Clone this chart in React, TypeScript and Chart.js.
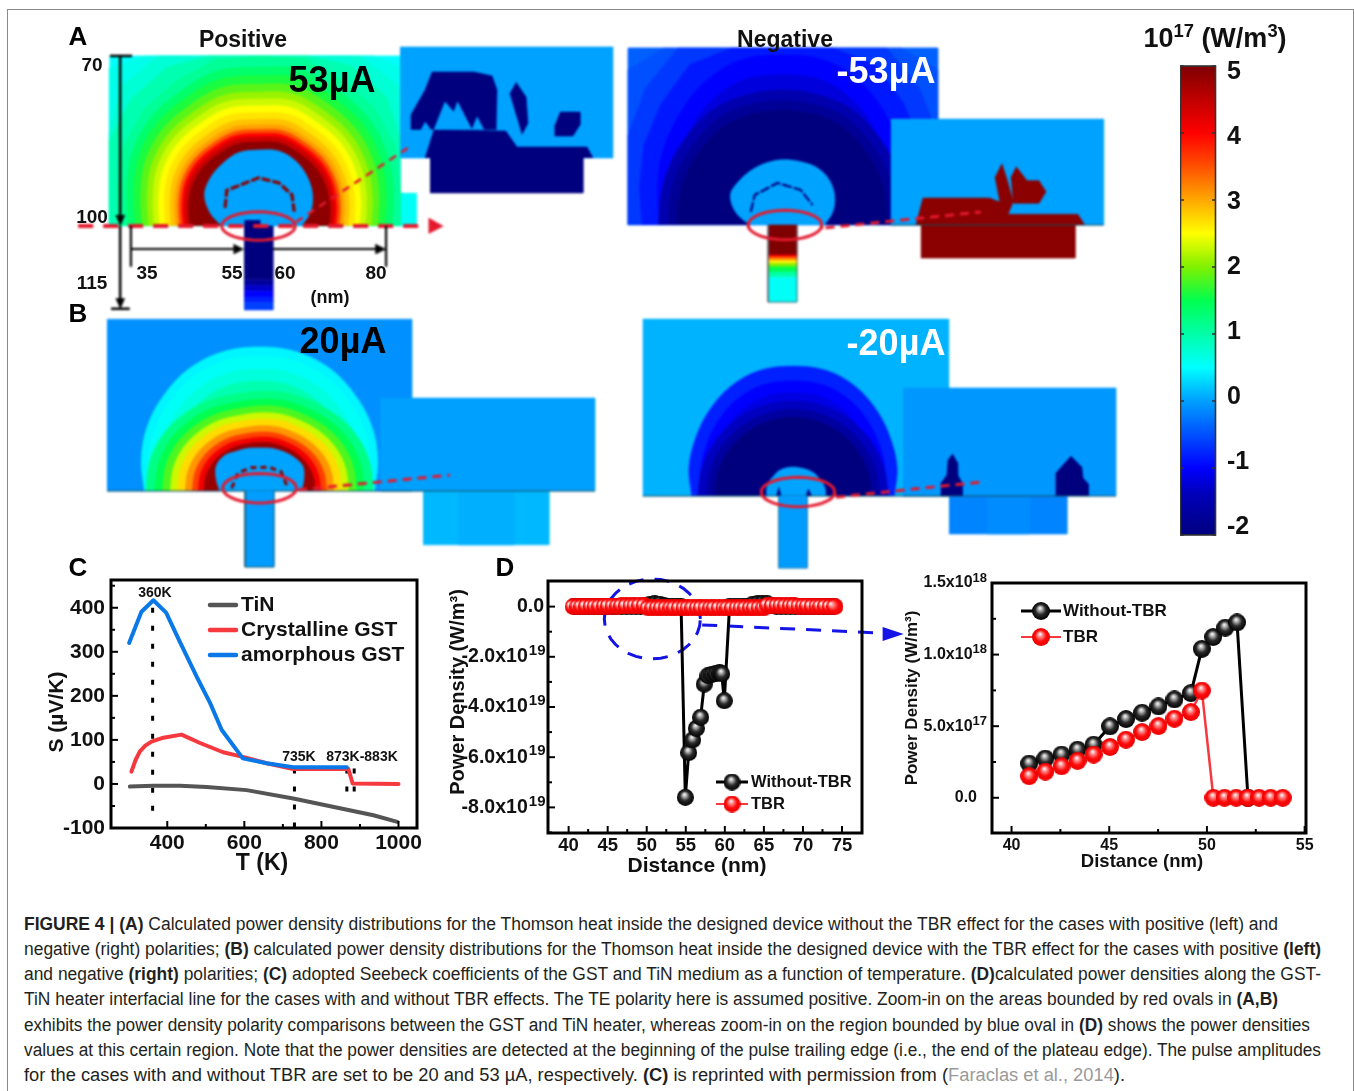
import React, { useEffect, useLayoutEffect, useRef } from 'react';
import { Chart, registerables } from 'chart.js';
Chart.register(...registerables);
Chart.defaults.font.family = '"Liberation Sans", Arial, sans-serif';

const FONT = '"Liberation Sans", Arial, sans-serif';

// ---------- Panel C ----------
const tempBlue = [301, 333, 364, 397, 433, 476, 511, 541, 596, 658, 727, 866];
const seebeckBlue = [320, 391, 417, 389, 322, 244, 184, 123, 58, 47, 38, 38];
const tempRed = [307, 318, 329, 343, 359, 390, 437, 485, 545, 599, 658, 727, 870, 881, 1000];
const seebeckRed = [28, 55, 74, 87, 96, 105, 112, 93, 72, 61, 47, 34, 34, 1, 0];
const tempGray = [303, 364, 433, 502, 606, 727, 848, 935, 997];
const seebeckGray = [-6, -4, -4, -7, -14, -33, -55, -71, -86];
const dottedT = [362, 730, 866, 885];
const dottedTop = [400, 35, 35, 35];
const dottedBottom = [-63, -100, -20, -40];
const tempTicks = [400, 600, 800, 1000];
const seebeckTicks = [-100, 0, 100, 200, 300, 400];

// ---------- Panel D (values in 1e19 W/m3) ----------
const dBlackX = [40.8, 41.4, 42.0, 42.6, 43.2, 43.8, 44.4, 45.0, 45.6, 46.2, 46.8, 47.4, 48.0, 48.6, 49.2, 49.8, 50.4, 51.0, 51.6, 52.2, 52.8, 53.4, 54.0, 54.4, 54.94, 55.37, 55.88, 56.35, 56.9, 57.37, 57.84, 58.35, 58.86, 59.33, 59.6, 59.93, 60.6, 61.2, 61.8, 62.4, 63.0, 63.6, 64.2, 64.8, 65.4, 66.0, 66.6, 67.2, 67.8, 68.4, 69.0, 69.6, 70.2, 70.8, 71.4, 72.0, 72.6, 73.2, 73.8];
const dBlackY = [0.02, 0.02, 0.02, 0.02, 0.02, 0.02, 0.02, 0.02, 0.02, 0.02, 0.02, 0.02, 0.02, 0.02, 0.02, 0.03, 0.09, 0.11, 0.1, 0.04, 0.02, 0.01, 0.0, 0.0, -7.6, -5.82, -5.31, -4.85, -4.41, -3.09, -2.75, -2.7, -2.67, -2.64, -2.68, -3.75, 0.0, 0.0, 0.0, 0.0, 0.02, 0.1, 0.12, 0.13, 0.12, 0.05, 0.02, 0.02, 0.02, 0.02, 0.02, 0.02, 0.02, 0.02, 0.02, 0.02, 0.02, 0.02, 0.02];
const dRedX = [40.6, 41.2, 41.7, 42.3, 42.9, 43.4, 44.0, 44.6, 45.1, 45.7, 46.3, 46.8, 47.4, 48.0, 48.5, 49.1, 49.7, 50.2, 50.8, 51.4, 51.9, 52.5, 53.1, 53.6, 54.2, 54.8, 55.3, 55.9, 56.5, 57.0, 57.6, 58.2, 58.7, 59.3, 59.9, 60.4, 61.0, 61.6, 62.1, 62.7, 63.3, 63.8, 64.4, 65.0, 65.5, 66.1, 66.7, 67.2, 67.8, 68.4, 68.9, 69.5, 70.1, 70.6, 71.2, 71.8, 72.3, 72.9, 73.5, 74.1];
const dRedY = [0.0, 0.0, 0.0, 0.01, 0.01, 0.01, 0.01, 0.02, 0.02, 0.02, 0.02, 0.03, 0.03, 0.03, 0.03, 0.04, 0.04, -0.05, -0.05, -0.05, -0.05, -0.05, -0.05, -0.05, -0.05, -0.05, -0.05, -0.05, -0.05, -0.05, -0.05, -0.05, -0.05, -0.05, -0.05, -0.05, -0.05, -0.05, -0.05, -0.05, -0.05, -0.05, -0.05, -0.05, 0.05, 0.04, 0.04, 0.04, 0.03, 0.03, 0.03, 0.02, 0.02, 0.02, 0.01, 0.01, 0.01, 0.01, 0.0, 0.0];
const distanceTicks = [40, 45, 50, 55, 60, 65, 70, 75];
const densityTicks = [-8, -6, -4, -2, 0];

// ---------- Panel D inset (values in 1e18 W/m3) ----------
const zoomBlackX = [40.9, 41.73, 42.56, 43.38, 44.2, 45.04, 45.86, 46.68, 47.52, 48.34, 49.18, 49.74, 50.32, 50.94, 51.54, 52.1];
const zoomBlackY = [0.239, 0.274, 0.302, 0.336, 0.371, 0.499, 0.55, 0.594, 0.638, 0.687, 0.731, 1.04, 1.123, 1.188, 1.225, 0.0];
const zoomRedX = [40.9, 41.73, 42.56, 43.38, 44.2, 45.04, 45.86, 46.68, 47.52, 48.34, 49.18, 49.74, 50.33, 50.9, 51.5, 52.08, 52.67, 53.26, 53.88];
const zoomRedY = [0.151, 0.183, 0.22, 0.258, 0.302, 0.355, 0.406, 0.459, 0.501, 0.552, 0.599, 0.749, 0, 0, 0, 0, 0, 0, 0];
const zoomXTicks = [40, 45, 50, 55];
const zoomYTicks = [0, 0.5, 1, 1.5];

// ---------- Colour scale ----------
const cbValues = [-2, -1.4, -1, -0.5, 0, 0.5, 1, 1.5, 2, 2.5, 3, 3.5, 4, 4.5, 5];
const cbColors = ['#00007f', '#0000b8', '#0000ff', '#0050ff', '#00a0ff', '#00ffff', '#00ffa8', '#00ff50', '#80f000', '#ffff00', '#ffa800', '#ff5000', '#ff0000', '#c00000', '#7f0000'];

function hexRgb(h: string) { return [1, 3, 5].map((i) => parseInt(h.slice(i, i + 2), 16)); }
function jet(v: number) {
  if (v <= cbValues[0]) return cbColors[0];
  for (let i = 1; i < cbValues.length; i++) {
    if (v <= cbValues[i]) {
      const t = (v - cbValues[i - 1]) / (cbValues[i] - cbValues[i - 1]);
      const a = hexRgb(cbColors[i - 1]), b = hexRgb(cbColors[i]);
      return `rgb(${a.map((c, k) => Math.round(c + (b[k] - c) * t)).join(',')})`;
    }
  }
  return cbColors[cbColors.length - 1];
}

// ---------- Field panels: nm about the heater centre, y upward ----------
const NM = 5.67;
const NAVY = '#00007f', DARKRED = '#8b0000', RED = '#e4192e';
type P = number[];

const aPosProfile = [0.84, 0.88, 0.93, 0.97, 0.99, 1.02, 1, 1.01, 0.98, 0.96, 0.92, 0.86, 0.82];
const aPosRadii = [41, 36, 33, 30, 28, 26.5, 25, 23.6, 22.4, 21.2, 20, 18.8, 17.8, 17, 16.3, 15.7, 14.8];
const aPosValues = [0.62, 0.75, 0.95, 1.1, 1.35, 1.6, 1.85, 2.1, 2.3, 2.5, 2.65, 2.85, 3.05, 3.5, 4.0, 4.4, 4.9];
const aPosCore = [7.6, 9.5, 11, 12.2, 13.2, 13.7, 13.4, 13.4, 12.7, 12, 11, 8.8, 6.5];
const aPosArc: P[] = [[-5.9, 3.2], [-5.6, 6.3], [0, 8.5], [3.6, 7.6], [5.9, 5.5], [6.3, 2.5]];

const aNegProfile = [0.72, 0.76, 0.82, 0.88, 0.95, 1, 1, 1, 0.95, 0.88, 0.82, 0.76, 0.72];
const aNegRadii = [52.9, 44.1, 38.8, 34.4, 30, 26.5];
const aNegValues = [-0.4, -0.5, -0.65, -0.85, -1, -1.2];
const aNegInnerProfile = [0.92, 0.93, 0.95, 0.97, 1, 1, 1, 1, 1, 0.97, 0.95, 0.93, 0.92];
const aNegInnerRadii = [23.8, 22, 20.3];
const aNegInnerValues = [-1.5, -1.75, -2];
const aNegCore = [7.4, 9.2, 10.6, 11.5, 11.8, 11.6, 11.5, 11.3, 11.1, 10.9, 10.6, 8.5, 5.8];
const aNegArc: P[] = [[-5.6, 2.3], [-4.9, 5.3], [-0.9, 7.4], [3.2, 6.2], [5.3, 3.5]];

const bPosProfile = [0.8, 0.85, 0.9, 0.94, 0.98, 1, 1, 1, 0.98, 0.94, 0.9, 0.85, 0.8];
const bPosRadii = [25.4, 23.8, 21.5, 19.4];
const bPosValues = [0.45, 0.55, 0.7, 0.95];
const bPosInnerProfile = [1.14, 1.14, 1.12, 1.08, 1.04, 1.02, 1, 1, 1.04, 1.08, 1.12, 1.14, 1.14];
const bPosInnerRadii = [17.6, 16.2, 15, 13.8, 12.7, 11.5, 10.4, 9.5, 8.6];
const bPosInnerValues = [1.2, 1.5, 1.8, 2.3, 2.7, 3.1, 3.6, 4.1, 4.8];
const bPosCore = [7.4, 8.1, 8.8, 8.5, 8.1, 7.8, 7.6, 7.8, 8.1, 8.8, 8.8, 7.9, 7];
const bPosArc: P[] = [[-4.9, 0.5], [-3.8, 3.2], [-1.5, 4.1], [1.7, 4.2], [3.8, 3.4], [5, 0.5]];

const bNegProfile = [0.78, 0.83, 0.87, 0.92, 0.97, 1, 1, 1, 0.97, 0.92, 0.87, 0.83, 0.78];
const bNegRadii = [22.9, 20.3, 18.2];
const bNegValues = [-0.8, -1, -1.15];
const bNegInnerProfile = [1, 1, 1, 1, 1, 1, 1, 1, 1, 1, 1, 1, 1];
const bNegInnerRadii = [16.8, 15.3, 13.9];
const bNegInnerValues = [-1.35, -1.65, -2];
const bNegCore = [5.8, 5.8, 5.6, 5.5, 5.3, 5.1, 5.1, 5.1, 5.1, 4.9, 4.9, 4.8, 4.6];

// Inset shapes in nm at inset scale
const insetAPos: P[][] = [
  [[-2.66, 0], [-2.37, 0.92], [-0.02, 0.88], [0.34, 0.36], [2.63, 0.36], [2.83, 0]],
  [[-3.12, 0.92], [-3.12, 1.41], [-2.66, 2.22], [-2.43, 2.81], [-1.06, 2.81], [-0.47, 2.68], [-0.31, 2.22], [-0.34, 0.92]],
  [[0.31, 2.48], [0.64, 1.99], [0.7, 1.14], [0.51, 0.78], [0.11, 2.12]],
  [[1.75, 1.5], [2.4, 1.5], [2.4, 1.08], [2.17, 0.72], [1.58, 0.72], [1.58, 1.08]],
];
const insetAPosNotches: P[][] = [
  [[-2.37, 0.92], [-2.01, 1.83], [-1.72, 1.5], [-1.6, 1.83], [-1.13, 0.92]],
  [[-1.13, 0.92], [-0.96, 1.34], [-0.74, 0.92]],
  [[-2.66, 1.18], [-2.47, 0.92], [-2.8, 0.92]],
];
const insetANeg: P[][] = [
  [[-2.68, 0], [-2.45, 0.88], [-0.26, 0.88], [0.33, 0.35], [2.61, 0.35], [2.84, 0]],
  [[-0.1, 1.54], [0.13, 2.0], [0.28, 1.54], [0.5, 0.77], [0.05, 0.77]],
  [[0.42, 1.54], [0.6, 1.9], [0.95, 1.45], [1.34, 1.45], [1.57, 1.09], [1.34, 0.71], [0.5, 0.71]],
  [[0.05, 0.77], [0.5, 0.77], [0.33, 0.35], [-0.26, 0.88]],
];
const insetBNeg: P[][] = [
  [[-2.84, 0], [-2.84, 0.55], [-2.59, 0.89], [-2.54, 1.53], [-2.35, 1.78], [-2.16, 1.44], [-2.13, 0.89], [-1.94, 0.55], [-1.94, 0]],
  [[2.03, 0], [2.03, 0.97], [2.67, 1.69], [3.13, 1.22], [3.18, 0.76], [3.41, 0.51], [3.41, 0]],
];

// ---------- Dataset helpers ----------
const xy = (pts: P[]) => pts.map(([x, y]) => ({ x, y }));
const poly = (pts: P[], color: string, extra: any = {}) => ({
  data: xy(pts), showLine: true, fill: 'shape', backgroundColor: color, borderColor: color,
  borderWidth: 0.6, pointRadius: 0, tension: 0, ...extra,
});
const line = (pts: P[], color: string, width: number, dash: number[] = [], extra: any = {}) => ({
  data: xy(pts), showLine: true, fill: false, borderColor: color, backgroundColor: color,
  borderWidth: width, borderDash: dash, pointRadius: 0, tension: 0, ...extra,
});
const rect = (x0: number, y0: number, x1: number, y1: number): P[] => [[x0, y0], [x1, y0], [x1, y1], [x0, y1]];
const ANGLES = [0, 15, 30, 45, 60, 75, 90, 105, 120, 135, 150, 165, 180];
const polar = (radii: number[]): P[] =>
  radii.map((r, i) => {
    const a = (ANGLES[i] * Math.PI) / 180;
    return [r * Math.cos(a), r * Math.sin(a)];
  });
const ellipse = (cx: number, cy: number, rx: number, ry: number): P[] => {
  const out: P[] = [];
  for (let a = 0; a <= 360; a += 10) out.push([cx + rx * Math.cos((a * Math.PI) / 180), cy + ry * Math.sin((a * Math.PI) / 180)]);
  return out;
};

function ordered(list: any[]) {
  return list.map((d, i) => ({ ...d, order: list.length - i }));
}

function ringPoly(radii: number[], p: any, color: string) {
  const raw = polar(radii);
  const clamped = raw.some(([x, y]) => x < p.xL || x > p.xR || y > p.yT);
  const pts = raw.map(([x, y]) => [Math.min(p.xR, Math.max(p.xL, x)), Math.min(p.yT, y)]);
  return poly(pts, color, { tension: clamped ? 0 : 0.35 });
}

function field(p: any) {
  const out: any[] = [];
  out.push(poly(rect(p.xL, 0, p.xR, p.yT), jet(p.bg)));
  (p.under || []).forEach((d: any) => out.push(d));
  p.groups.forEach((g: any) => {
    g.radii.forEach((r: number, i: number) => {
      out.push(ringPoly(g.profile.map((f: number) => f * r), p, jet(g.values[i])));
    });
  });
  out.push(ringPoly(p.core, p, jet(0.02)));
  (p.over || []).forEach((d: any) => out.push(d));
  // heater bands
  p.heater.forEach((b: number[]) => out.push(poly(rect(-2.55, b[0], 2.55, b[1]), jet(b[2]))));
  if (p.heaterEdge) {
    out.push(line([[-2.55, 0], [-2.55, p.heater[p.heater.length - 1][1]], [2.55, p.heater[p.heater.length - 1][1]], [2.55, 0]], p.heaterEdge, 1));
  }
  const T = (pts: P[]): P[] => pts.map(([x, y]) => [p.ins.dx + x * p.ins.k, p.ins.dy + y * p.ins.k]);
  out.push(poly(T(rect(p.ins.x0, 0, p.ins.x1, p.ins.top)), p.ins.bg));
  p.ins.lower.forEach((b: any) => out.push(poly(T(rect(b[0], 0, b[1], p.ins.bottom)), b[2])));
  (p.ins.shapes || []).forEach((s: P[]) => out.push(poly(T(s), p.ins.fg)));
  (p.ins.notches || []).forEach((s: P[]) => out.push(poly(T(s), p.ins.bg)));
  (p.ins.baseLine ? [1] : []).forEach(() => out.push(line(T([[p.ins.x0, 0], [p.ins.x1, 0]]), '#14505f', 1)));
  (p.top || []).forEach((d: any) => out.push(d));
  return ordered(out);
}

const panelAPos = {
  cx: 258.5, base: 226, box: { left: 70, top: 40, width: 550, height: 275 },
  xL: -26.3, xR: 25, yT: 30, bg: 0.52,
  under: [poly(rect(25, 0, 27.9, 5.8), jet(0.55))],
  groups: [{ profile: aPosProfile, radii: aPosRadii, values: aPosValues }],
  core: aPosCore,
  over: [line(aPosArc, DARKRED, 3.2, [9, 2]), poly(rect(-2.5, 0, 0.3, 1), NAVY)],
  heater: [[0, -9.5, -2], [-9.5, -10.5, -1.7], [-10.5, -11.5, -1.3], [-11.5, -12.5, -1], [-12.5, -13.5, -0.8], [-13.5, -14.8, -0.6]],
  ins: { dx: 43.74, dy: 11.99, k: 5.397, x0: -3.48, x1: 3.48, top: 3.63, bottom: -1.14, bg: '#00a2ff', fg: NAVY, lower: [[-2.5, 2.5, NAVY]], shapes: insetAPos, notches: insetAPosNotches },
  top: [
    line([[-31.8, 0], [28.5, 0]], RED, 4, [15, 10]),
    poly([[30.1, 1.4], [30.1, -1.3], [32.6, 0]], RED),
    line([[6.6, 0.7], [26.4, 13.8]], RED, 2.5, [8, 6]),
    line(ellipse(0, 0, 6.5, 2.5), RED, 3),
    line([[-24.4, 30], [-24.4, 1]], '#000', 2.5),
    poly([[-25.2, 1.9], [-23.6, 1.9], [-24.4, 0]], '#000'),
    line([[-26.2, 30], [-22.3, 30]], '#000', 2.5),
    line([[-24.4, 0], [-24.4, -13.5]], '#000', 2.5),
    poly([[-25.2, -12.8], [-23.6, -12.8], [-24.4, -14.6]], '#000'),
    line([[-26, -14.6], [-22.7, -14.6]], '#000', 2.5),
    line([[-22.5, -4.06], [-3.4, -4.06]], '#000', 2.2),
    poly([[-4.3, -3.2], [-4.3, -4.9], [-2.6, -4.06]], '#000'),
    line([[2.55, -4.06], [21, -4.06]], '#000', 2.2),
    poly([[20.7, -3.2], [20.7, -4.9], [22.5, -4.06]], '#000'),
    line([[-22.5, 0], [-22.5, -7.2]], '#000', 2.2),
    line([[22.5, 0], [22.5, -7.2]], '#000', 2.2),
  ],
};

const panelANeg = {
  cx: 782.5, base: 225, box: { left: 620, top: 35, width: 500, height: 275 },
  xL: -27.2, xR: 27.4, yT: 31.2, bg: -0.38,
  groups: [
    { profile: aNegProfile, radii: aNegRadii, values: aNegValues },
    { profile: aNegInnerProfile, radii: aNegInnerRadii, values: aNegInnerValues },
  ],
  core: aNegCore,
  over: [line(aNegArc, NAVY, 2.2, [10, 2])],
  heater: [[0, -5.3, 5], [-5.3, -5.7, 4], [-5.7, -6.2, 3.3], [-6.2, -6.8, 2.6], [-6.8, -7.4, 2], [-7.4, -8.3, 1.5], [-8.3, -9.2, 1], [-9.2, -13.6, 0.55]],
  heaterEdge: '#667',
  ins: { dx: 38.0, dy: 0, k: 5.397, x0: -3.5, x1: 3.46, top: 3.46, bottom: -1.08, bg: '#00a2ff', fg: DARKRED, lower: [[-2.52, 2.52, DARKRED]], shapes: insetANeg, baseLine: true },
  top: [
    line([[7.6, -0.5], [35, 2.3]], RED, 3, [9, 6]),
    line(ellipse(0.44, 0, 6.5, 2.6), RED, 3),
  ],
};

const panelBPos = {
  cx: 259.5, base: 491, box: { left: 95, top: 310, width: 510, height: 265 },
  xL: -26.9, xR: 26.9, yT: 30.3, bg: -0.1,
  groups: [
    { profile: bPosProfile, radii: bPosRadii, values: bPosValues },
    { profile: bPosInnerProfile, radii: bPosInnerRadii, values: bPosInnerValues },
  ],
  core: bPosCore,
  over: [line(bPosArc, DARKRED, 3, [6, 4]), line([[-26.9, 0], [26.9, 0]], '#14505f', 1)],
  heater: [[0, -13.4, -0.02]],
  heaterEdge: '#155a72',
  ins: { dx: 39.95, dy: 0, k: 4.44, x0: -4.2, x1: 4.33, top: 3.69, bottom: -2.14, bg: '#00a0ff', fg: NAVY, baseLine: true, lower: [[-2.5, 2.5, '#00b8ff'], [-1.1, 1.1, '#00b0ff']] },
  top: [
    line([[6.8, 0.2], [33.6, 2.8]], RED, 3, [9, 6]),
    line(ellipse(0, 0.5, 6.5, 2.6), RED, 3),
  ],
};

const panelBNeg = {
  cx: 793, base: 496, box: { left: 635, top: 310, width: 490, height: 265 },
  xL: -26.5, xR: 27.5, yT: 31.2, bg: 0.1,
  groups: [
    { profile: bNegProfile, radii: bNegRadii, values: bNegValues },
    { profile: bNegInnerProfile, radii: bNegInnerRadii, values: bNegInnerValues },
  ],
  core: bNegCore,
  over: [
    poly([[-2.9, 0], [-2.5, 1.5], [-2.1, 0]], NAVY), poly([[2.3, 0], [2.7, 1.2], [3.3, 0]], NAVY),
    line([[-26.5, 0], [27.5, 0]], '#14505f', 1),
  ],
  heater: [[0, -12.7, -0.02]],
  heaterEdge: '#2a80b0',
  ins: { dx: 37.92, dy: 0, k: 4.16, x0: -4.45, x1: 4.58, top: 4.58, bottom: -1.61, bg: '#0098ff', fg: NAVY, baseLine: true, lower: [[-2.5, 2.5, '#0084ff'], [-0.9, 0.9, '#008cff']], shapes: insetBNeg },
  top: [
    line([[7.6, -0.2], [33.5, 2.5]], RED, 3, [9, 6]),
    line(ellipse(0.88, 0.7, 6.5, 2.6), RED, 3),
  ],
};

function fieldConfig(p: any) {
  const b = p.box;
  return {
    type: 'scatter',
    data: { datasets: field(p) },
    options: {
      responsive: false, animation: false, events: [], devicePixelRatio: 1,
      layout: { padding: 0 },
      plugins: { legend: { display: false }, tooltip: { enabled: false } },
      scales: {
        x: { type: 'linear', display: false, min: (b.left - p.cx) / NM, max: (b.left + b.width - p.cx) / NM },
        y: { type: 'linear', display: false, min: (p.base - b.top - b.height) / NM, max: (p.base - b.top) / NM },
      },
    },
  };
}

// ---------- Sphere markers ----------
function sphere(kind: 'black' | 'red', d = 16, hx = -1) {
  const c = document.createElement('canvas');
  c.width = d; c.height = d;
  const g = c.getContext('2d')!;
  const r = d / 2;
  const grad = g.createRadialGradient(r + hx, r - 3, 0.4, r, r, r);
  if (kind === 'black') {
    grad.addColorStop(0, '#f4f4f4'); grad.addColorStop(0.22, '#a8a8a8'); grad.addColorStop(0.55, '#2a2a2a'); grad.addColorStop(1, '#000');
  } else {
    grad.addColorStop(0, '#fff4f4'); grad.addColorStop(0.22, '#ff9090'); grad.addColorStop(0.6, '#ff0c0c'); grad.addColorStop(1, '#e80000');
  }
  g.fillStyle = grad;
  g.beginPath(); g.arc(r, r, r, 0, Math.PI * 2); g.fill();
  return c;
}

// ---------- Frame, inward ticks, legends, annotations ----------
function decor(cfg: any) {
  return {
    id: 'decor',
    afterDatasetsDraw(chart: any) {
      const { ctx, chartArea: a } = chart;
      const xs = chart.scales.x, ys = chart.scales.y;
      ctx.save();
      ctx.strokeStyle = '#000'; ctx.fillStyle = '#000';
      const tick = (p: number, len: number, horiz: boolean) => {
        ctx.lineWidth = 2;
        ctx.beginPath();
        if (horiz) { ctx.moveTo(p, a.bottom); ctx.lineTo(p, a.bottom - len); }
        else { ctx.moveTo(a.left, p); ctx.lineTo(a.left + len, p); }
        ctx.stroke();
      };
      xs.ticks.forEach((t: any) => tick(xs.getPixelForValue(t.value), 7, true));
      ys.ticks.forEach((t: any) => tick(ys.getPixelForValue(t.value), 7, false));
      (cfg.xMinor || []).forEach((v: number) => tick(xs.getPixelForValue(v), 4, true));
      (cfg.yMinor || []).forEach((v: number) => tick(ys.getPixelForValue(v), 4, false));
      ctx.lineWidth = 3;
      ctx.strokeRect(a.left, a.top, a.right - a.left, a.bottom - a.top);
      (cfg.legend || []).forEach((e: any) => {
        ctx.strokeStyle = e.color; ctx.lineWidth = e.width;
        ctx.lineCap = e.ball ? 'butt' : 'round';
        ctx.beginPath(); ctx.moveTo(e.x0, e.y); ctx.lineTo(e.x1, e.y); ctx.stroke();
        if (e.ball) ctx.drawImage(e.ball, (e.x0 + e.x1) / 2 - e.ball.width / 2, e.y - e.ball.height / 2);
        ctx.fillStyle = '#111'; ctx.font = cfg.legendFont; ctx.textAlign = 'left'; ctx.textBaseline = 'middle';
        ctx.fillText(e.label, e.tx, e.y);
      });
      (cfg.texts || []).forEach((t: any) => {
        ctx.save();
        ctx.translate(t.x, t.y);
        if (t.rot) ctx.rotate(t.rot);
        ctx.fillStyle = '#111'; ctx.font = t.font; ctx.textAlign = 'center'; ctx.textBaseline = 'middle';
        ctx.fillText(t.text, 0, 0);
        ctx.restore();
      });
      (cfg.heads || []).forEach((h: any) => {
        ctx.fillStyle = h.color;
        ctx.beginPath();
        h.pts.forEach((q: P, i: number) => {
          const px = xs.getPixelForValue(q[0]), py = ys.getPixelForValue(q[1]);
          if (i) ctx.lineTo(px, py); else ctx.moveTo(px, py);
        });
        ctx.closePath(); ctx.fill();
      });
      // exponents next to the library's tick labels
      if (cfg.sup) {
        ctx.fillStyle = '#111'; ctx.font = cfg.sup.font; ctx.textAlign = 'right'; ctx.textBaseline = 'middle';
        ys.ticks.forEach((t: any) => {
          const s = cfg.sup.text(t.value);
          if (s) ctx.fillText(s, a.left - cfg.sup.gap, ys.getPixelForValue(t.value) - cfg.sup.rise);
        });
      }
      ctx.restore();
    },
  };
}

// Scale padding (label half-height plus tick padding) would otherwise push the plot area in.
const noPad = (s: any) => { s.paddingTop = 0; s.paddingBottom = 0; s.paddingLeft = 0; s.paddingRight = 0; };

function axisBase(ticksList: number[], extra: any) {
  return {
    type: 'linear',
    grid: { display: false, drawTicks: false },
    border: { display: false },
    afterBuildTicks: (s: any) => { s.ticks = ticksList.map((value) => ({ value })); },
    ...extra,
  };
}

// Panel C
const boxC = { left: 40, top: 565, width: 397, height: 314 };
const configC = {
  type: 'scatter',
  data: {
    datasets: [
      line(tempBlue.map((t, i) => [t, seebeckBlue[i]]), '#0a78e6', 4, [], { label: 'amorphous GST', order: 0, borderJoinStyle: 'round', borderCapStyle: 'round' }),
      line(tempRed.map((t, i) => [t, seebeckRed[i]]), '#f5393f', 4, [], { label: 'Crystalline GST', order: 1, borderJoinStyle: 'round', borderCapStyle: 'round' }),
      line(tempGray.map((t, i) => [t, seebeckGray[i]]), '#555555', 4, [], { label: 'TiN', order: 2, borderCapStyle: 'round' }),
      ...dottedT.map((t, i) => line([[t, dottedTop[i]], [t, dottedBottom[i]]], '#000', 3, [5, 13], { order: 3 })),
    ],
  },
  options: {
    responsive: false, animation: false, events: [], devicePixelRatio: 1,
    layout: { padding: { top: 15, right: 20, left: 0, bottom: 0 } },
    plugins: { legend: { display: false }, tooltip: { enabled: false } },
    scales: {
      x: axisBase(tempTicks, {
        min: 254, max: 1048,
        ticks: { color: '#111', font: { size: 21, weight: 'bold' }, padding: 3, maxRotation: 0, autoSkip: false, callback: (v: number) => String(v) },
        afterFit: (s: any) => { s.height = 51; noPad(s); },
      }),
      y: axisBase(seebeckTicks, {
        min: -100, max: 463,
        ticks: { color: '#111', font: { size: 21, weight: 'bold' }, padding: 6 },
        afterFit: (s: any) => { s.width = 71; noPad(s); },
      }),
    },
  },
  plugins: [decor({
    xMinor: [500, 700, 900],
    yMinor: [-50, 50, 150, 250, 350, 450],
    legendFont: 'bold 21px ' + FONT,
    legend: [
      { label: 'TiN', color: '#555555', width: 4.5, x0: 210 - 40, x1: 236 - 40, y: 605 - 565, tx: 241 - 40 },
      { label: 'Crystalline GST', color: '#f5393f', width: 4.5, x0: 210 - 40, x1: 236 - 40, y: 630 - 565, tx: 241 - 40 },
      { label: 'amorphous GST', color: '#0a78e6', width: 4.5, x0: 210 - 40, x1: 236 - 40, y: 655 - 565, tx: 241 - 40 },
    ],
    texts: [
      { text: 'S (µV/K)', x: 57 - 40, y: 712 - 565, rot: -Math.PI / 2, font: 'bold 21px ' + FONT },
      { text: 'T (K)', x: 262 - 40, y: 864 - 565, font: 'bold 23px ' + FONT },
      { text: '360K', x: 155 - 40, y: 593 - 565, font: 'bold 14px ' + FONT },
      { text: '735K', x: 299 - 40, y: 757 - 565, font: 'bold 14px ' + FONT },
      { text: '873K-883K', x: 362 - 40, y: 757 - 565, font: 'bold 14px ' + FONT },
    ],
  })],
};

// Panel D
const boxD = { left: 445, top: 566, width: 465, height: 313 };
function configD() {
  const blue = '#1414e6';
  return {
    type: 'scatter',
    data: {
      datasets: [
        line(dRedX.map((x, i) => [x, dRedY[i]]), '#f5393f', 2, [], { label: 'TBR', order: 0, pointRadius: 8, pointStyle: sphere('red', 17, -5) }),
        line(dBlackX.map((x, i) => [x, dBlackY[i]]), '#000', 3, [], { label: 'Without-TBR', order: 1, pointRadius: 8, pointStyle: sphere('black', 17) }),
        line(ellipse(50.72, -0.49, 6.15, 1.59), blue, 3, [15, 11], { order: 2, clip: false }),
        line([[57.1, -0.73], [79.9, -1.05]], blue, 3, [15, 11], { order: 2, clip: false }),
      ],
    },
    options: {
      responsive: false, animation: false, events: [], devicePixelRatio: 1,
      layout: { padding: { top: 15, right: 48, left: 0, bottom: 0 } },
      plugins: { legend: { display: false }, tooltip: { enabled: false } },
      scales: {
        x: axisBase(distanceTicks, {
          min: 37.36, max: 77.56,
          ticks: { color: '#111', font: { size: 18.5, weight: 'bold' }, padding: 2, maxRotation: 0, autoSkip: false, callback: (v: number) => String(v) },
          afterFit: (s: any) => { s.height = 46; noPad(s); },
        }),
        y: axisBase(densityTicks, {
          min: -9.02, max: 1.02,
          ticks: { color: '#111', font: { size: 19.5, weight: 'bold' }, padding: 4, callback: (v: number) => (v === 0 ? '0.0' : v.toFixed(1) + 'x10\u00a0\u00a0\u00a0') },
          afterFit: (s: any) => { s.width = 103; noPad(s); },
        }),
      },
    },
    plugins: [decor({
      xMinor: [42.5, 47.5, 52.5, 57.5, 62.5, 67.5, 72.5],
      yMinor: [-1, -3, -5, -7, -9],
      legendFont: 'bold 16.5px ' + FONT,
      legend: [
        { label: 'Without-TBR', color: '#000', width: 3, x0: 716 - 445, x1: 748 - 445, y: 782 - 566, tx: 751 - 445, ball: sphere('black', 17) },
        { label: 'TBR', color: '#f5393f', width: 2, x0: 716 - 445, x1: 748 - 445, y: 804 - 566, tx: 751 - 445, ball: sphere('red', 17) },
      ],
      texts: [
        { text: 'Power Density (W/m³)', x: 458 - 445, y: 692 - 566, rot: -Math.PI / 2, font: 'bold 20px ' + FONT },
        { text: 'Distance (nm)', x: 697 - 445, y: 866 - 566, font: 'bold 21px ' + FONT },
      ],
      heads: [{ color: blue, pts: [[80.2, -0.81], [80.2, -1.37], [82.9, -1.09]] }],
      sup: { font: 'bold 15px ' + FONT, gap: 2.5, rise: 6, text: (v: number) => (v === 0 ? '' : '19') },
    })],
  };
}

// Panel D inset
const boxE = { left: 900, top: 568, width: 430, height: 309 };
function configE() {
  return {
    type: 'scatter',
    data: {
      datasets: [
        line(zoomRedX.map((x, i) => [x, zoomRedY[i]]), '#f5393f', 2.5, [], { label: 'TBR', order: 0, pointRadius: 8, pointStyle: sphere('red', 18) }),
        line(zoomBlackX.map((x, i) => [x, zoomBlackY[i]]), '#000', 3, [], { label: 'Without-TBR', order: 1, pointRadius: 8, pointStyle: sphere('black', 18) }),
      ],
    },
    options: {
      responsive: false, animation: false, events: [], devicePixelRatio: 1,
      layout: { padding: { top: 15, right: 24, left: 0, bottom: 0 } },
      plugins: { legend: { display: false }, tooltip: { enabled: false } },
      scales: {
        x: axisBase(zoomXTicks, {
          min: 39, max: 55.07,
          ticks: { color: '#111', font: { size: 16, weight: 'bold' }, padding: 3, maxRotation: 0, autoSkip: false, callback: (v: number) => String(v) },
          afterFit: (s: any) => { s.height = 44; noPad(s); },
        }),
        y: axisBase(zoomYTicks, {
          min: -0.246, max: 1.5,
          ticks: {
            color: '#111', font: { size: 16, weight: 'bold' }, padding: 15,
            callback: (v: number) => (v === 0 ? '0.0' : v < 1 ? (v * 10).toFixed(1) + 'x10\u00a0' : v.toFixed(1) + 'x10\u00a0'),
          },
          afterFit: (s: any) => { s.width = 92; noPad(s); },
        }),
      },
    },
    plugins: [decor({
      xMinor: [42.5, 47.5, 52.5],
      yMinor: [0.25, 0.75, 1.25],
      legendFont: 'bold 17px ' + FONT,
      legend: [
        { label: 'Without-TBR', color: '#000', width: 3, x0: 1021 - 900, x1: 1061 - 900, y: 611 - 568, tx: 1063 - 900, ball: sphere('black', 18) },
        { label: 'TBR', color: '#f5393f', width: 2, x0: 1021 - 900, x1: 1061 - 900, y: 637 - 568, tx: 1063 - 900, ball: sphere('red', 18) },
      ],
      texts: [
        { text: 'Power Density (W/m³)', x: 912 - 900, y: 698 - 568, rot: -Math.PI / 2, font: 'bold 17px ' + FONT },
        { text: 'Distance (nm)', x: 1142 - 900, y: 862 - 568, font: 'bold 18.5px ' + FONT },
      ],
      sup: { font: 'bold 13px ' + FONT, gap: 5, rise: 5, text: (v: number) => (v === 0 ? '' : v < 1 ? '17' : '18') },
    })],
  };
}

// Colour bar
const boxBar = { left: 1180, top: 46, width: 86, height: 509 };
const barTicks = [-2, -1, 0, 1, 2, 3, 4, 5];
const barConfig = {
  type: 'bar',
  data: {
    labels: ['power density'],
    datasets: [{
      data: [[-2, 5]],
      yAxisID: 'y', barPercentage: 1, categoryPercentage: 1, borderWidth: 0,
      backgroundColor: (c: any) => {
        const a = c.chart.chartArea;
        if (!a) return '#000';
        const g = c.chart.ctx.createLinearGradient(0, a.bottom, 0, a.top);
        cbValues.forEach((v, i) => g.addColorStop((v + 2) / 7, cbColors[i]));
        return g;
      },
    }],
  },
  options: {
    responsive: false, animation: false, events: [], devicePixelRatio: 1,
    layout: { padding: { top: 20, bottom: 20, left: 0, right: 0 } },
    plugins: { legend: { display: false }, tooltip: { enabled: false } },
    scales: {
      x: { display: false },
      y: { display: false, min: -2, max: 5 },
      yLabels: {
        type: 'linear', position: 'right', min: -2.123, max: 5.092,
        grid: { display: false, drawTicks: false }, border: { display: false },
        afterBuildTicks: (s: any) => { s.ticks = barTicks.map((value) => ({ value })); },
        ticks: { color: '#111', font: { size: 25, weight: 'bold' }, padding: 11 },
        afterFit: (s: any) => { s.width = 50; noPad(s); },
      },
    },
  },
  plugins: [{
    id: 'barFrame',
    afterDatasetsDraw(chart: any) {
      const { ctx, chartArea: a, scales } = chart;
      ctx.save();
      ctx.strokeStyle = '#333'; ctx.lineWidth = 1.6;
      ctx.strokeRect(a.left + 0.5, a.top, a.right - a.left - 1, a.bottom - a.top);
      barTicks.forEach((v) => {
        const p = scales.y.getPixelForValue(v);
        ctx.beginPath();
        ctx.moveTo(a.left, p); ctx.lineTo(a.left + 4, p);
        ctx.moveTo(a.right, p); ctx.lineTo(a.right - 4, p);
        ctx.stroke();
      });
      ctx.restore();
    },
  }],
};

// ---------- Text ----------
const panelLabels: any[] = [
  ['A', 78, 36, 26, '#000'], ['B', 78, 313, 26, '#000'], ['C', 78, 567, 26, '#000'], ['D', 505, 567, 26, '#000'],
  ['Positive', 243, 39, 23, '#111'], ['Negative', 785, 39, 23, '#111'],
  ['53µA', 332, 80, 36, '#000'], ['-53µA', 886, 71, 36, '#fff'],
  ['20µA', 343, 341, 36, '#000'], ['-20µA', 896, 343, 36, '#fff'],
  ['70', 92, 65, 19, '#111'], ['100', 92, 217, 19, '#111'], ['115', 92, 283, 19, '#111'],
  ['35', 147, 273, 19, '#111'], ['55', 232, 273, 19, '#111'], ['60', 285, 273, 19, '#111'], ['80', 376, 273, 19, '#111'],
  ['(nm)', 330, 297, 18, '#111'],
];
const supStyle: React.CSSProperties = { fontSize: '0.68em', verticalAlign: '0.5em', lineHeight: 0 };

const captionLines: [string, number][] = [
  ['**FIGURE 4 | (A)** Calculated power density distributions for the Thomson heat inside the designed device without the TBR effect for the cases with positive (left) and', 1278],
  ['negative (right) polarities; **(B)** calculated power density distributions for the Thomson heat inside the designed device with the TBR effect for the cases with positive **(left)**', 1321],
  ['and negative **(right)** polarities; **(C)** adopted Seebeck coefficients of the GST and TiN medium as a function of temperature. **(D)**calculated power densities along the GST-', 1321],
  ['TiN heater interfacial line for the cases with and without TBR effects. The TE polarity here is assumed positive. Zoom-in on the areas bounded by red ovals in **(A,B)**', 1278],
  ['exhibits the power density polarity comparisons between the GST and TiN heater, whereas zoom-in on the region bounded by blue oval in **(D)** shows the power densities', 1310],
  ['values at this certain region. Note that the power densities are detected at the beginning of the pulse trailing edge (i.e., the end of the plateau edge). The pulse amplitudes', 1321],
  ['for the cases with and without TBR are set to be 20 and 53 µA, respectively. **(C)** is reprinted with permission from (~~Faraclas et al., 2014~~).', 1125],
];
const captionY = [924, 949, 974, 999, 1025, 1050, 1075];

function CaptionLine({ text, right, y }: { text: string; right: number; y: number }) {
  const ref = useRef<HTMLDivElement>(null);
  useLayoutEffect(() => {
    const el = ref.current!;
    el.style.transform = 'none';
    const w = el.getBoundingClientRect().width;
    el.style.transform = `scaleX(${(right - 24) / w})`;
  }, [text, right]);
  const parts = text.split(/(\*\*.*?\*\*|~~.*?~~)/).filter(Boolean);
  return (
    <div ref={ref} style={{ position: 'absolute', left: 24, top: y - 11, height: 22, lineHeight: '22px', whiteSpace: 'nowrap', transformOrigin: '0 50%', fontFamily: FONT, fontSize: 18, color: '#231f20' }}>
      {parts.map((p, i) =>
        p.startsWith('**') ? <b key={i}>{p.slice(2, -2)}</b> : p.startsWith('~~') ? <span key={i} style={{ color: '#9a9a9a' }}>{p.slice(2, -2)}</span> : <span key={i}>{p}</span>
      )}
    </div>
  );
}

function ChartBox({ box, config, blur }: { box: any; config: () => any; blur?: number }) {
  const ref = useRef<HTMLCanvasElement>(null);
  useEffect(() => {
    const chart = new Chart(ref.current!, config());
    return () => chart.destroy();
  }, []);
  return (
    <canvas ref={ref} width={box.width} height={box.height}
      style={{ position: 'absolute', left: box.left, top: box.top, width: box.width, height: box.height, display: 'block', filter: blur ? `blur(${blur}px)` : undefined }} />
  );
}

export default function App() {
  return (
    <div style={{ position: 'absolute', left: 0, top: 0, width: 1354, height: 1091, overflow: 'hidden', background: '#fff' }}>
      <div style={{ position: 'absolute', left: 7, top: 9, width: 1345, height: 1090, border: '1.5px solid #8a8a8a' }} />
      {[panelAPos, panelANeg, panelBPos, panelBNeg].map((p, i) => (
        <ChartBox key={i} box={p.box} config={() => fieldConfig(p)} blur={0.8} />
      ))}
      <ChartBox box={boxBar} config={() => barConfig} blur={0.4} />
      <ChartBox box={boxC} config={() => configC} blur={0.4} />
      <ChartBox box={boxD} config={configD} blur={0.4} />
      <ChartBox box={boxE} config={configE} blur={0.4} />
      {panelLabels.map(([t, x, y, s, c], i) => (
        <div key={i} style={{ position: 'absolute', left: x, top: y, transform: 'translate(-50%,-50%)', fontFamily: FONT, fontWeight: 'bold', fontSize: s, color: c, whiteSpace: 'nowrap', filter: 'blur(0.3px)' }}>{t}</div>
      ))}
      <div style={{ position: 'absolute', left: 1215, top: 38, transform: 'translate(-50%,-50%)', fontFamily: FONT, fontWeight: 'bold', fontSize: 27, color: '#111', whiteSpace: 'nowrap', filter: 'blur(0.3px)' }}>
        10<span style={supStyle}>17</span> (W/m<span style={supStyle}>3</span>)
      </div>
      {captionLines.map(([t, r], i) => <CaptionLine key={i} text={t} right={r} y={captionY[i]} />)}
    </div>
  );
}
